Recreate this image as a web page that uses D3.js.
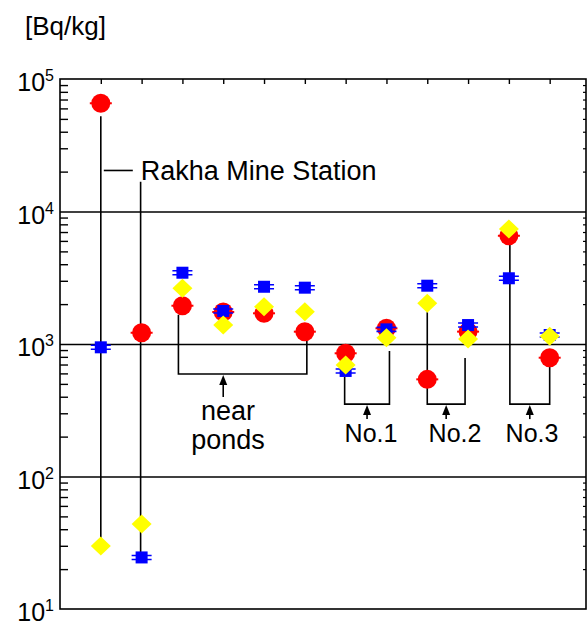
<!DOCTYPE html>
<html>
  <head>
    <meta charset="utf-8">
    <script src="https://cdn.jsdelivr.net/npm/d3@7"></script>
    <style>
      body { margin: 0; background: #fff; }
      text { font-family: "Liberation Sans", Arial, sans-serif; fill: #000; }
    </style>
  </head>
  <body>
    <script type="text/javascript">
      // sampling sites, left to right
      var sites = ["Rakha 1", "Rakha 2", "Pond 1", "Pond 2", "Pond 3", "Pond 4",
                   "No.1 a", "No.1 b", "No.2 a", "No.2 b", "No.3 a", "No.3 b"];
      // activity per site [Bq/kg], three series
      var redValues    = [65600, 1216, 1945, 1745, 1705, 1239, 851, 1313, 541, 1240, 6560, 788];
      var blueValues   = [944, 24.5, 3451, 1775, 2704, 2661, 626, 1290, 2754, 1390, 3134, 1169];
      var yellowValues = [29.9, 43.8, 2630, 1390, 1912, 1754, 694, 1116, 2028, 1092, 7380, 1143];
      // y axis decades
      var decades = [10, 100, 1000, 10000, 100000];
      var decadeExp = ["1", "2", "3", "4", "5"];
      // bracket annotations: site indices joined, bracket level [Bq/kg], label lines
      var groupFrom   = [2, 6, 8, 10];
      var groupTo     = [5, 7, 9, 11];
      var groupLevel  = [594, 352, 352, 352];
      var groupLabels = [["near", "ponds"], ["No.1"], ["No.2"], ["No.3"]];

      function draw() {
        "use strict";
        var W = 587, H = 623;
        var left = 60, right = 586, top = 79, bottom = 609;

        var svg = d3.select("body").append("svg")
            .attr("width", W).attr("height", H);

        var x = d3.scaleLinear().domain([0, 12.89]).range([left, right]);
        var y = d3.scaleLog().domain([10, 100000]).range([bottom, top]);

        var minor = [];
        decades.slice(0, 4).forEach(function (d) {
          for (var k = 2; k <= 9; k++) minor.push(d * k);
        });

        // gridlines
        svg.append("g")
            .attr("transform", "translate(" + left + ",0)")
            .call(d3.axisLeft(y).tickValues([100, 1000, 10000]).tickSize(-(right - left)).tickFormat(""))
            .call(function (g) { g.select(".domain").remove(); })
            .selectAll("line").attr("stroke", "#000").attr("stroke-width", 1.6);

        // left minor ticks
        svg.append("g")
            .attr("transform", "translate(" + left + ",0)")
            .call(d3.axisLeft(y).tickValues(minor).tickSize(-8).tickFormat(""))
            .call(function (g) { g.select(".domain").remove(); })
            .selectAll("line").attr("stroke", "#000").attr("stroke-width", 1.4);

        // right minor ticks
        svg.append("g")
            .attr("transform", "translate(" + right + ",0)")
            .call(d3.axisRight(y).tickValues(minor).tickSize(-3).tickFormat(""))
            .call(function (g) { g.select(".domain").remove(); })
            .selectAll("line").attr("stroke", "#000").attr("stroke-width", 1.2);

        // top ticks at each site
        svg.append("g")
            .attr("transform", "translate(0," + top + ")")
            .call(d3.axisTop(x).tickValues(d3.range(1, 13)).tickSize(-5).tickFormat(""))
            .call(function (g) { g.select(".domain").remove(); })
            .selectAll("line").attr("stroke", "#000").attr("stroke-width", 1.4);

        // frame
        svg.append("rect")
            .attr("x", left).attr("y", top)
            .attr("width", right - left).attr("height", bottom - top)
            .attr("fill", "none").attr("stroke", "#000").attr("stroke-width", 1.6);

        // decade labels 10^n
        var lab = svg.append("g").selectAll("text")
            .data(decades).enter().append("text")
            .attr("x", 54)
            .attr("y", function (d) { return y(d) + 12; })
            .attr("text-anchor", "end")
            .style("font-size", "25px");
        lab.append("tspan").text("10");
        lab.append("tspan")
            .attr("dy", -10)
            .style("font-size", "16px")
            .text(function (d, i) { return decadeExp[i]; });

        svg.append("text")
            .attr("x", 25).attr("y", 35)
            .style("font-size", "26px")
            .text("[Bq/kg]");

        // Rakha Mine Station stems and label
        svg.append("line")
            .attr("x1", x(1)).attr("x2", x(1))
            .attr("y1", y(redValues[0]) + 13).attr("y2", y(yellowValues[0]))
            .attr("stroke", "#000").attr("stroke-width", 1.6);
        svg.append("line")
            .attr("x1", x(2) - 1).attr("x2", x(2) - 1)
            .attr("y1", y(16800)).attr("y2", y(blueValues[1]))
            .attr("stroke", "#000").attr("stroke-width", 1.6);
        svg.append("line")
            .attr("x1", x(1) + 3).attr("x2", x(1) + 32)
            .attr("y1", y(20400)).attr("y2", y(20400))
            .attr("stroke", "#000").attr("stroke-width", 1.6);
        svg.append("text")
            .attr("x", x(1) + 40).attr("y", y(20400) + 10)
            .style("font-size", "27px")
            .text("Rakha Mine Station");

        // group brackets
        var stemTop = [
          y(redValues[2]) + 9, y(redValues[5]) + 9,
          y(blueValues[6]) + 6, y(885),
          y(yellowValues[8]) + 9, y(783),
          y(redValues[10]) + 9, y(redValues[11]) + 9
        ];
        var xShift = [-4, 2, -1, 3, 0, -3, 1, 0];
        var arrowLen = [23, 15, 15, 15];
        var labelX = [228, 371, 455, 532];
        var ann = svg.append("g");
        groupFrom.forEach(function (a, i) {
          var b = groupTo[i];
          var xa = x(a + 1) + xShift[2 * i], xb = x(b + 1) + xShift[2 * i + 1];
          var yb = y(groupLevel[i]);
          ann.append("path")
              .attr("d", "M" + xa + "," + stemTop[2 * i] + "V" + yb + "H" + xb + "V" + stemTop[2 * i + 1])
              .attr("fill", "none").attr("stroke", "#000").attr("stroke-width", 1.6);
          var xm = i === 0 ? x(4) : (xa + xb) / 2;
          ann.append("line")
              .attr("x1", xm).attr("x2", xm)
              .attr("y1", yb + 8).attr("y2", yb + arrowLen[i])
              .attr("stroke", "#000").attr("stroke-width", 1.6);
          ann.append("path")
              .attr("d", "M" + xm + "," + (yb + 1) + "L" + (xm - 4) + "," + (yb + 11) + "L" + (xm + 4) + "," + (yb + 11) + "Z")
              .attr("fill", "#000");
          groupLabels[i].forEach(function (t, j) {
            ann.append("text")
                .attr("x", labelX[i])
                .attr("y", yb + (i === 0 ? 46 : 38) + j * 29)
                .attr("text-anchor", "middle")
                .style("font-size", i === 0 ? "27px" : "25px")
                .text(t);
          });
        });

        // markers: red circles, blue squares, yellow diamonds
        var idx = d3.range(sites.length);
        var red = svg.append("g").selectAll("g").data(idx).enter().append("g")
            .attr("transform", function (i) { return "translate(" + x(i + 1) + "," + y(redValues[i]) + ")"; });
        red.append("line").attr("x1", -11).attr("x2", 11)
            .attr("stroke", "#f00").attr("stroke-width", 2);
        red.append("circle").attr("r", 9.5).attr("fill", "#f00");

        var blue = svg.append("g").selectAll("g").data(idx).enter().append("g")
            .attr("transform", function (i) { return "translate(" + x(i + 1) + "," + y(blueValues[i]) + ")"; });
        blue.append("path").attr("d", "M-10,-2H10M-10,2H10")
            .attr("stroke", "#00f").attr("stroke-width", 1.6);
        blue.append("rect").attr("x", -6).attr("y", -6).attr("width", 12).attr("height", 12)
            .attr("fill", "#00f");

        var yel = svg.append("g").selectAll("g").data(idx).enter().append("g")
            .attr("transform", function (i) { return "translate(" + x(i + 1) + "," + y(yellowValues[i]) + ")"; });
        yel.append("path").attr("d", "M0,-9.5L10,0L0,9.5L-10,0Z")
            .attr("fill", "#ff0");
      }
      draw();
    </script>
  </body>
</html>
